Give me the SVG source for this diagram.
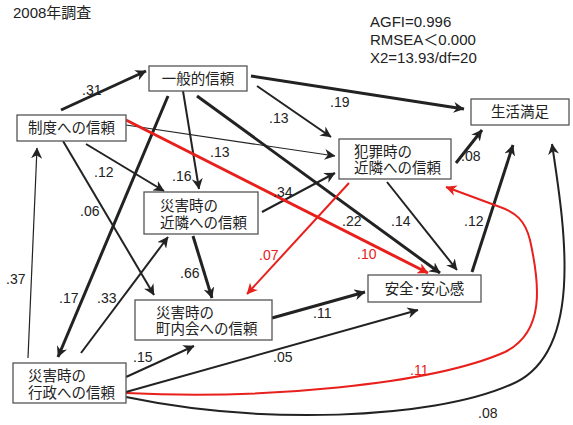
<svg xmlns="http://www.w3.org/2000/svg" width="573" height="425" viewBox="0 0 573 425">
<style>
text{font-family:"Liberation Sans","Noto Sans CJK JP",sans-serif;fill:#222}
.t{font-size:15px}
.n{font-size:14.5px}
.l{font-size:14px}
.r{fill:#e8201c}
.box{fill:#fff;stroke:#555;stroke-width:1.3}
.e{fill:none;stroke:#222;marker-end:url(#ah)}
.er{fill:none;stroke:#e8201c;marker-end:url(#ahr)}
.w1{stroke-width:1.2}
.w2{stroke-width:2}
.w3{stroke-width:3}
</style>
<defs>
<marker id="ah" viewBox="0 0 10 10" refX="9.5" refY="5" markerWidth="11" markerHeight="11" markerUnits="userSpaceOnUse" orient="auto"><path d="M0,0 L10,5 L0,10 L3,5 z" fill="#222"/></marker>
<marker id="ahr" viewBox="0 0 10 10" refX="9.5" refY="5" markerWidth="11" markerHeight="11" markerUnits="userSpaceOnUse" orient="auto"><path d="M0,0 L10,5 L0,10 L3,5 z" fill="#e8201c"/></marker>
</defs>
<text class="t" x="13" y="18">2008年調査</text>
<text class="t" x="370" y="27">AGFI=0.996</text>
<text class="t" x="370" y="45">RMSEA＜0.000</text>
<text class="t" x="370" y="63">X2=13.93/df=20</text>
<g id="connectors">
<path class="e w3" d="M61,110 L146,71"/>
<path class="e w3" d="M251,76 L464,109"/>
<path class="e w2" d="M257,86 L331,137"/>
<path class="e w1" d="M126,125 L335,156"/>
<path class="e w3" d="M197,96 L440,273"/>
<path class="e w2" d="M183,91 L199,189"/>
<path class="e w3" d="M168,96 L58,357"/>
<path class="e w2" d="M86,144 L164,191"/>
<path class="e w2" d="M63,141 L154,295"/>
<path class="e w1" d="M28,358 L37,148"/>
<path class="e w2" d="M81,353 L168,237"/>
<path class="e w3" d="M193,236 L212,298"/>
<path class="e w2" d="M262,212 L335,173"/>
<path class="e w2" d="M387,182 L457,270"/>
<path class="e w3" d="M456,163 L482,130"/>
<path class="e w3" d="M472,272 L513,145"/>
<path class="e w2" d="M126,397 C260,425 430,420 510,385 C585,355 565,230 552,144"/>
<path class="er w2" d="M126,393 C260,400 430,385 505,352 C545,332 540,285 530,240 C525,220 515,212 500,207 L446,187"/>
<path class="e w2" d="M126,377 L194,346"/>
<path class="e w2" d="M126,392 L418,310"/>
<path class="e w3" d="M272,318 L365,292"/>
<path class="er w3" d="M126,120 L428,273"/>
<path class="er w2" d="M349,183 L247,294"/>
</g>
<g id="n-ippan"><rect class="box" x="149" y="66" width="98" height="25"/><text class="n" x="198" y="84" text-anchor="middle">一般的信頼</text></g>
<g id="n-seido"><rect class="box" x="17" y="115" width="109" height="26"/><text class="n" x="71.5" y="133" text-anchor="middle">制度への信頼</text></g>
<g id="n-seikatsu"><rect class="box" x="471" y="99" width="98" height="26"/><text class="n" x="520" y="117" text-anchor="middle">生活満足</text></g>
<g id="n-hanzai"><rect class="box" x="339" y="139" width="112" height="40"/><text class="n" x="354" y="157">犯罪時の</text><text class="n" x="354" y="173">近隣への信頼</text></g>
<g id="n-saigai-kinrin"><rect class="box" x="144" y="192" width="114" height="42"/><text class="n" x="160" y="211">災害時の</text><text class="n" x="160" y="228">近隣への信頼</text></g>
<g id="n-chonaikai"><rect class="box" x="135" y="300" width="137" height="40"/><text class="n" x="156" y="318">災害時の</text><text class="n" x="156" y="334">町内会への信頼</text></g>
<g id="n-anzen"><rect class="box" x="368" y="275" width="113" height="27"/><text class="n" x="424.5" y="294" text-anchor="middle">安全･安心感</text></g>
<g id="n-gyosei"><rect class="box" x="13" y="363" width="113" height="40"/><text class="n" x="28" y="381">災害時の</text><text class="n" x="28" y="398">行政への信頼</text></g>
<g id="labels">
<text class="l" x="82" y="95">.31</text>
<text class="l" x="330" y="107">.19</text>
<text class="l" x="269" y="123">.13</text>
<text class="l" x="210" y="157">.13</text>
<text class="l" x="342" y="226">.22</text>
<text class="l" x="172" y="181">.16</text>
<text class="l" x="59" y="303">.17</text>
<text class="l" x="94" y="177">.12</text>
<text class="l" x="80" y="216">.06</text>
<text class="l" x="6" y="284">.37</text>
<text class="l" x="97" y="303">.33</text>
<text class="l" x="180" y="278">.66</text>
<text class="l" x="273" y="197">.34</text>
<text class="l" x="391" y="226">.14</text>
<text class="l" x="461" y="161">.08</text>
<text class="l" x="464" y="226">.12</text>
<text class="l" x="478" y="418">.08</text>
<text class="l r" x="410" y="375">.11</text>
<text class="l" x="133" y="362">.15</text>
<text class="l" x="273" y="362">.05</text>
<text class="l" x="313" y="318">.11</text>
<text class="l r" x="357" y="259">.10</text>
<text class="l r" x="259" y="260">.07</text>
</g>
</svg>
